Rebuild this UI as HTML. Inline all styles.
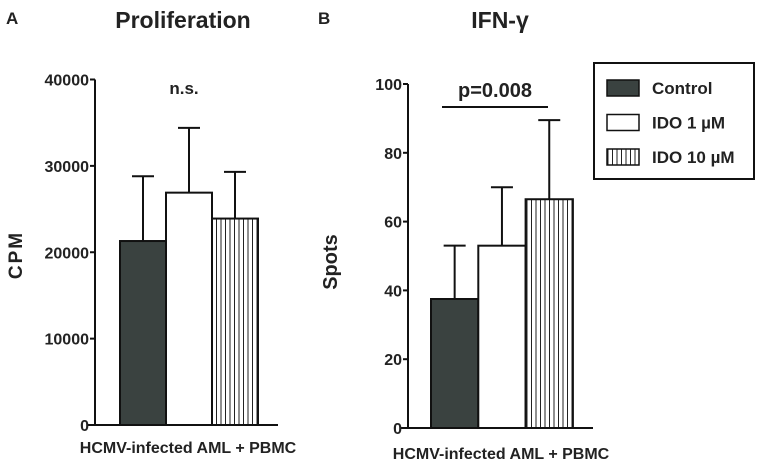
<!DOCTYPE html>
<html><head><meta charset="utf-8"><style>
body{margin:0;background:#fff}
svg{display:block;font-family:"Liberation Sans",Arial,sans-serif;font-weight:bold}
</style></head><body>
<svg width="760" height="465" viewBox="0 0 760 465">
<defs>
<pattern id="vl" width="4.5" height="10" patternUnits="userSpaceOnUse"><rect width="4.5" height="10" fill="#fff"/><line x1="0.5" y1="0" x2="0.5" y2="10" stroke="#222" stroke-width="1"/></pattern>
</defs>
<g id="chart"></g>
</svg>
<script>
const categories=["Control","IDO 1 µM","IDO 10 µM"];
const aValues=[21300,26900,23900];
const aErrTop=[28800,34400,29300];
const aTicks=[0,10000,20000,30000,40000];
const bValues=[37.5,53,66.5];
const bErrTop=[53,70,89.5];
const bTicks=[0,20,40,60,80,100];
const fills=["#3a4240","#fff","url(#vl)"];
const NS="http://www.w3.org/2000/svg";
const g=document.getElementById("chart");
function mk(t,a,txt){const e=document.createElementNS(NS,t);for(const k in a)e.setAttribute(k,a[k]);if(txt!==undefined)e.textContent=txt;g.appendChild(e);return e;}
function panel(p,vals,errs,ticks,vmax){
  const y=v=>p.y0-(v/vmax)*(p.y0-p.ytop);
  let e=mk("line",{x1:p.ax,y1:p.ytop,x2:p.ax,y2:p.y0,stroke:"#111","stroke-width":2});
  
  
  e=mk("line",{x1:p.ax-8,y1:p.y0,x2:p.xend,y2:p.y0,stroke:"#111","stroke-width":2});
  
  
  ticks.forEach(t=>{
    e=mk("line",{x1:p.ax-5,y1:y(t),x2:p.ax,y2:y(t),stroke:"#111","stroke-width":2});
    
    
    e=mk("text",{x:p.ax-6,y:y(t)+6,"text-anchor":"end","font-size":16,fill:"#222"},String(t));
    
    
  });
  vals.forEach((v,i)=>{
    const x0=p.bx+i*p.bw, cx=x0+p.bw/2;
    e=mk("line",{x1:cx,y1:y(v),x2:cx,y2:y(errs[i]),stroke:"#111","stroke-width":2});
    
    
    e=mk("line",{x1:cx-11,y1:y(errs[i]),x2:cx+11,y2:y(errs[i]),stroke:"#111","stroke-width":2});
    
    
    e=mk("rect",{x:x0,y:y(v),width:p.bw,height:p.y0-y(v),fill:fills[i],stroke:"#111","stroke-width":2});
    
    
  });
  return y;
}
panel({id:"a",ax:95,ytop:79.5,y0:425,xend:278,bx:120,bw:46},aValues,aErrTop,aTicks,40000);
panel({id:"b",ax:408,ytop:84,y0:428,xend:593,bx:431,bw:47.3},bValues,bErrTop,bTicks,100);
function T(x,y,s,txt,name,extra){const e=mk("text",Object.assign({x:x,y:y,"font-size":s,fill:"#222"},extra||{}),txt);return e;}
T(6,24,17,"A","panel-a-label");
T(183,28,23,"Proliferation","panel-a-title",{"text-anchor":"middle"});
T(318,24,17,"B","panel-b-label");
T(500,28,23,"IFN-γ","panel-b-title",{"text-anchor":"middle"});
T(184,94,17,"n.s.","ns-annotation",{"text-anchor":"middle"});
T(495,97,20,"p=0.008","p-value",{"text-anchor":"middle"});
let l=mk("line",{x1:442,y1:107,x2:548,y2:107,stroke:"#111","stroke-width":2});


T(22,255,19,"CPM","y-axis-title-a",{"text-anchor":"middle",transform:"rotate(-90 22 255)","letter-spacing":"2"});
T(337,262,20,"Spots","y-axis-title-b",{"text-anchor":"middle",transform:"rotate(-90 337 262)"});
T(188,453,16,"HCMV-infected AML + PBMC","x-label-a",{"text-anchor":"middle"});
T(501,459,16,"HCMV-infected AML + PBMC","x-label-b",{"text-anchor":"middle"});
l=mk("rect",{x:594,y:63,width:160,height:116,fill:"#fff",stroke:"#111","stroke-width":2});


categories.forEach((c,i)=>{
  const yy=80+i*34.5;
  let e=mk("rect",{x:607,y:yy,width:32,height:16,fill:fills[i],stroke:"#111","stroke-width":1.5});
  
  
  e=T(652,yy+14,17,c,"legend-entry");
  
});
</script>
</body></html>
